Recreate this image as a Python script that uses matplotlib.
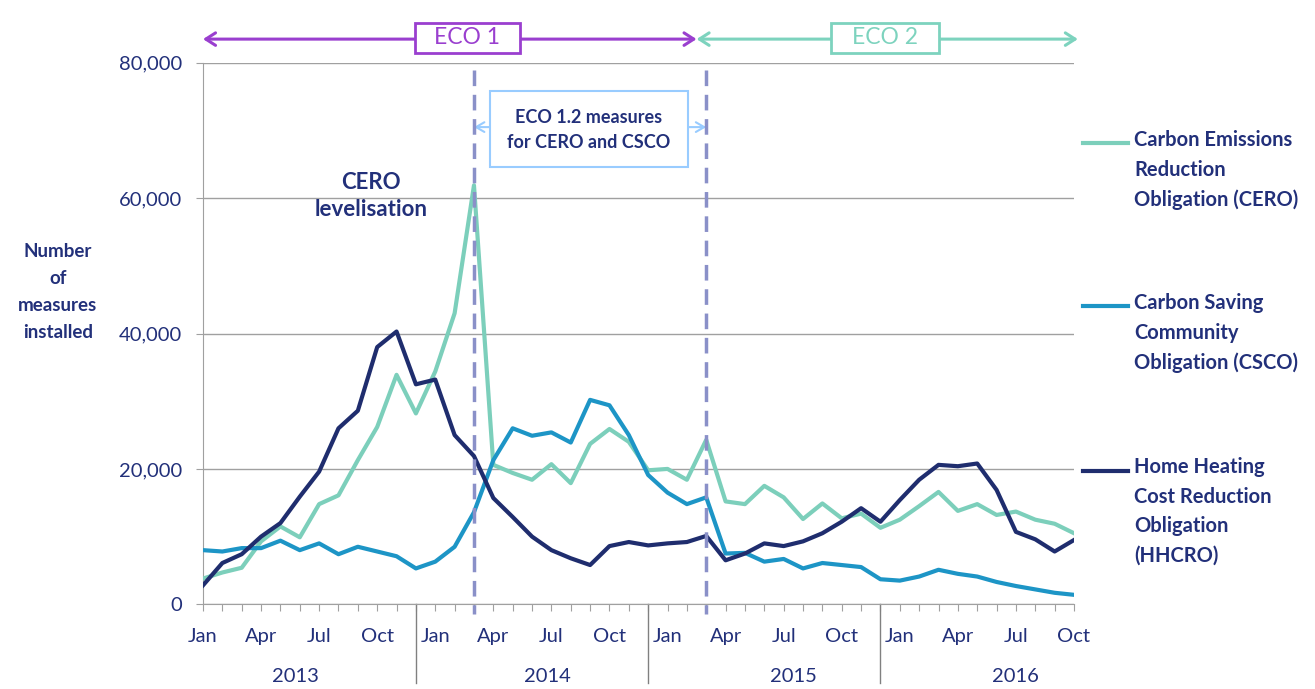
import matplotlib
matplotlib.use("Agg")
import matplotlib.pyplot as plt
from matplotlib.patches import Rectangle
from matplotlib.lines import Line2D

plt.rcParams['font.family'] = ['Lato', 'DejaVu Sans']

# monthly data Jan 2013 - Oct 2016
months = ['Jan', 'Feb', 'Mar', 'Apr', 'May', 'Jun', 'Jul', 'Aug', 'Sep', 'Oct', 'Nov', 'Dec']
years = ['2013', '2014', '2015', '2016']
cero = [3800, 4700, 5400, 9300, 11500, 9900, 14800, 16100, 21300, 26200, 33900, 28200,
        34400, 43000, 61900, 20600, 19400, 18400, 20700, 17900, 23700, 25900, 24000, 19800,
        20000, 18400, 24300, 15200, 14800, 17500, 15800, 12600, 14900, 12700, 13400, 11300,
        12500, 14500, 16600, 13800, 14800, 13200, 13700, 12500, 11900, 10500]
csco = [8000, 7800, 8300, 8300, 9400, 8000, 9000, 7400, 8500, 7800, 7100, 5300,
        6300, 8500, 13600, 21300, 26000, 24900, 25400, 23900, 30200, 29400, 25000, 19100,
        16500, 14800, 15800, 7500, 7600, 6300, 6700, 5300, 6100, 5800, 5500, 3700,
        3500, 4100, 5100, 4500, 4100, 3300, 2700, 2200, 1700, 1400]
hhcro = [2800, 6100, 7400, 10000, 12000, 15900, 19600, 26000, 28600, 38000, 40300, 32500,
         33200, 25000, 21900, 15700, 12900, 10000, 8000, 6800, 5800, 8600, 9200, 8700,
         9000, 9200, 10100, 6500, 7500, 9000, 8600, 9300, 10500, 12200, 14200, 12200,
         15400, 18400, 20600, 20400, 20800, 16900, 10700, 9600, 7800, 9500]
series_names = ['Carbon Emissions\nReduction\nObligation (CERO)',
                'Carbon Saving\nCommunity\nObligation (CSCO)',
                'Home Heating\nCost Reduction\nObligation\n(HHCRO)']

navy = '#1f2d6e'
txt = '#22307a'
c_cero = '#7ccfbb'
c_csco = '#1d95c6'
purple = '#9a3fcf'
teal2 = '#7dd3be'
lightblue = '#99ccff'
dashc = '#8a90c8'

W, H = 1315, 689
def fx(x): return x / W
def fy(y): return 1 - y / H

fig = plt.figure(figsize=(W / 100, H / 100), dpi=100)
ax = fig.add_axes([fx(203), fy(604.3), fx(1074) - fx(203), fy(62.8) - fy(604.3)])

x = list(range(len(cero)))
ax.plot(x, cero, color=c_cero, lw=3, zorder=3)
ax.plot(x, csco, color=c_csco, lw=3, zorder=3)
ax.plot(x, hhcro, color=navy, lw=3, zorder=4)

ax.set_xlim(0, 45)
ax.set_ylim(0, 80000)
ax.set_yticks([0, 20000, 40000, 60000, 80000])
ax.set_yticklabels(['0', '20,000', '40,000', '60,000', '80,000'])
ax.yaxis.grid(True, color='#a0a0a0', lw=1)
ax.set_axisbelow(True)
for s in ['top', 'right']:
    ax.spines[s].set_visible(False)
ax.spines['left'].set_color('#a0a0a0')
ax.spines['bottom'].set_color('#a0a0a0')
ax.tick_params(axis='y', colors='#a0a0a0', labelcolor=txt, labelsize=14.5, length=5, pad=10)
ax.set_xticks(x)
ax.set_xticklabels([months[i % 12] if i % 3 == 0 else '' for i in x])
ax.tick_params(axis='x', colors='#a0a0a0', labelcolor=txt, labelsize=14.5, length=5, pad=12)

# year separators and year labels
xt = ax.get_xaxis_transform()
for i in [11, 23, 35]:
    ax.plot([i, i], [0, -0.145], color='#808080', lw=1, transform=xt, clip_on=False)
for yr, pos in zip(years, [4.8, 17.8, 30.5, 42.0]):
    ax.text(pos, -0.133, yr, transform=xt, ha='center', va='center', fontsize=14.5, color=txt)

# dashed phase lines
for i in [14, 26]:
    ax.plot([i, i], [79000, -1500], color=dashc, lw=2.5, ls=(0, (4.5, 2.5)), zorder=5, clip_on=False)

# ECO arrows
ax.annotate('', xy=(0, 83500), xytext=(25.5, 83500), annotation_clip=False,
            arrowprops=dict(arrowstyle='<->,head_length=0.7,head_width=0.45', color=purple, lw=2.2,
                            shrinkA=0, shrinkB=0))
ax.annotate('', xy=(25.5, 83500), xytext=(45.2, 83500), annotation_clip=False,
            arrowprops=dict(arrowstyle='<->,head_length=0.7,head_width=0.45', color=teal2, lw=2.2,
                            shrinkA=0, shrinkB=0))
ax.annotate('', xy=(14, 70500), xytext=(26, 70500), annotation_clip=False,
            arrowprops=dict(arrowstyle='<->,head_length=0.6,head_width=0.35', color=lightblue, lw=1.5,
                            shrinkA=0, shrinkB=0))

def box(x0, y0, x1, y1, color, lw):
    fig.add_artist(Rectangle((fx(x0), fy(y1)), fx(x1) - fx(x0), fy(y0) - fy(y1),
                             transform=fig.transFigure, fc='white', ec=color, lw=lw, zorder=6))

box(415, 23, 520, 53, purple, 2)
fig.text(fx(467.5), fy(38), 'ECO 1', color=purple, fontsize=16.5, ha='center', va='center', zorder=7)
box(831, 23, 939, 53, teal2, 2)
fig.text(fx(885), fy(38), 'ECO 2', color=teal2, fontsize=16.5, ha='center', va='center', zorder=7)
box(490, 91, 688, 167, lightblue, 1.5)
fig.text(fx(589), fy(130), 'ECO 1.2 measures\nfor CERO and CSCO', color=txt, fontsize=13,
         fontweight='bold', ha='center', va='center', linespacing=1.55, zorder=7)

ax.text(8.7, 60300, 'CERO\nlevelisation', color=txt, fontsize=16, fontweight='bold',
        ha='center', va='center', linespacing=1.35)

# y label
fig.text(fx(58), fy(292), 'Number\nof\nmeasures\ninstalled', color=txt, fontsize=13.5,
         fontweight='bold', ha='center', va='center', linespacing=1.7)

# legend drawn by hand
for name, col, ytop, nlines in zip(series_names, [c_cero, c_csco, navy], [142.7, 306, 470.7], [3, 3, 4]):
    fig.add_artist(Line2D([fx(1083), fx(1128)], [fy(ytop), fy(ytop)], color=col, lw=3,
                          transform=fig.transFigure))
    fig.text(fx(1134), fy(ytop + 27.3 * (nlines - 1) / 2), name, color=txt, fontsize=14.5,
             fontweight='bold', ha='left', va='center', linespacing=1.6)

fig.savefig('out.png', dpi=100)
